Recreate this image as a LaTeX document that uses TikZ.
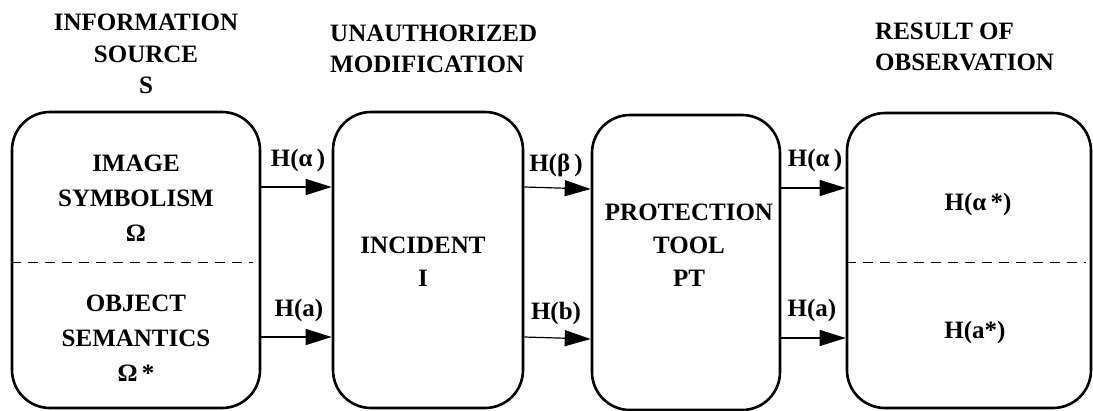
\documentclass[tikz,border=0pt]{standalone}
\usepackage{fontspec}
\setmainfont{Liberation Serif}
\usetikzlibrary{arrows.meta}
\begin{document}
\begin{tikzpicture}[x=1pt,y=-1pt,
  box/.style={draw,line width=2.6pt,rounded corners=38pt,inner sep=0pt},
  lbl/.style={font=\bfseries\fontsize{25}{33}\selectfont,align=center,inner sep=0pt},
  ttl/.style={font=\bfseries\fontsize{25}{31.5}\selectfont,inner sep=0pt},
  conn/.style={line width=1.2pt,-{Triangle[length=26pt,width=16pt]}},
  sep/.style={line width=0.8pt,dash pattern=on 10pt off 7pt}]
\useasboundingbox (0,0) rectangle (1093,410);
% boxes
\node[box,minimum width=248pt,minimum height=296pt] (b1) at (136,260) {};
\node[box,minimum width=190pt,minimum height=296pt] (b2) at (428,260) {};
\node[box,minimum width=188pt,minimum height=295pt] (b3) at (686,262.5) {};
\node[box,minimum width=244pt,minimum height=295pt] (b4) at (969,260.5) {};
% dashed separators
\draw[sep] ([yshift=-2pt]b1.west) -- ([yshift=-2pt,xshift=-8pt]b1.east);
\draw[sep] ([yshift=-1.5pt]b4.west) -- ([yshift=-1.5pt,xshift=-6pt]b4.east);
% titles
\node[ttl,align=center] (t1) at (146,54) {INFORMATION\\SOURCE\\S};
\node[ttl,align=left,anchor=west] (t2) at (330,49) {UNAUTHORIZED\\MODIFICATION};
\node[ttl,align=left,anchor=west] (t3) at (875,47) {RESULT OF\\OBSERVATION};
% box texts
\node[lbl,font=\bfseries\fontsize{25}{35}\selectfont] (s1) at (136,198) {IMAGE\\SYMBOLISM\\Ω};
\node[lbl,font=\bfseries\fontsize{25}{35}\selectfont] (s2) at (136,338) {OBJECT\\SEMANTICS\\Ω\,*};
\node[lbl] (inc) at (423,262) {INCIDENT\\I};
\node[lbl] (pt) at (689,245) {PROTECTION\\TOOL\\PT};
\node[lbl] (r1) at (978,204) {H(α\,*)};
\node[lbl] (r2) at (975,332) {H(a*)};
% connectors
\draw[conn] ([yshift=73pt]b1.east) -- ([yshift=73pt]b2.west);
\draw[conn] ([yshift=-77pt]b1.east) -- ([yshift=-77pt]b2.west);
\draw[conn] ([yshift=73pt]b2.east) -- ([yshift=73.5pt]b3.west);
\draw[conn] ([yshift=-77pt]b2.east) -- ([yshift=-76.5pt]b3.west);
\draw[conn] ([yshift=74.5pt]b3.east) -- ([yshift=72.5pt]b4.west);
\draw[conn] ([yshift=-75.5pt]b3.east) -- ([yshift=-77.5pt]b4.west);
% connector labels
\node[lbl] (h1) at (298,160) {H(α\,)};
\node[lbl] (h2) at (299,310) {H(a)};
\node[lbl] (h3) at (556,165) {H(β\,)};
\node[lbl] (h4) at (556,313) {H(b)};
\node[lbl] (h5) at (815,160) {H(α\,)};
\node[lbl] (h6) at (812,310) {H(a)};
\end{tikzpicture}
\end{document}
